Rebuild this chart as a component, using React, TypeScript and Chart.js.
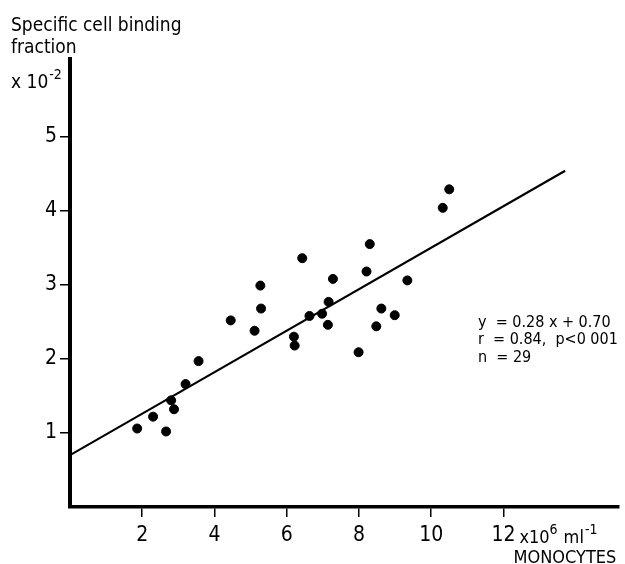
import React, { useEffect, useRef } from 'react';
import { Chart, registerables } from 'chart.js';

Chart.register(...registerables);

// Monocytes (x10^6 ml^-1)
const monocytes = [
  1.86, 2.30, 2.66, 2.80, 2.88, 3.20, 3.56, 4.45, 5.11, 5.29,
  5.27, 6.20, 6.22, 6.43, 6.63, 6.98, 7.14, 7.16, 7.28, 7.99,
  8.21, 8.30, 8.48, 8.62, 8.99, 9.34, 10.32, 10.50,
];
// Specific cell binding fraction (x10^-2)
const binding = [
  1.06, 1.22, 1.02, 1.44, 1.32, 1.66, 1.97, 2.52, 2.38, 2.68,
  2.99, 2.30, 2.18, 3.36, 2.58, 2.61, 2.46, 2.77, 3.08, 2.09,
  3.18, 3.55, 2.44, 2.68, 2.59, 3.06, 4.04, 4.29,
];
// Regression line y = 0.28 x + 0.70 (drawn segment)
const fitX = [0, 13.71];
const fitY = [0.70, 4.54];

const xTicks = [2, 4, 6, 8, 10, 12];
const yTicks = [1, 2, 3, 4, 5];
const xMax = 15.2;
const yMax = 6.05;

const FONT = '"DejaVu Sans Condensed", "DejaVu Sans", sans-serif';

const textPlugin = {
  id: 'figureTexts',
  afterDraw(chart: any) {
    const ctx = chart.ctx as CanvasRenderingContext2D;
    const xs = chart.scales.x;
    const area = chart.chartArea;
    ctx.save();
    ctx.fillStyle = '#000';
    ctx.textAlign = 'left';
    ctx.textBaseline = 'alphabetic';

    // y-axis title
    ctx.font = `19px ${FONT}`;
    ctx.fillText('Specific cell binding', 11, 31);
    ctx.fillText('fraction', 11, 53);
    const base = 'x 10';
    ctx.fillText(base, 11, 88);
    const w0 = ctx.measureText(base).width;
    ctx.font = `14px ${FONT}`;
    ctx.fillText('-2', 11 + w0 + 1, 79);

    // x-axis unit after "12"
    const p12 = xs.getPixelForValue(12);
    ctx.font = `18px ${FONT}`;
    let cx = p12 + 16;
    const by = 543;
    ctx.fillText('x10', cx, by);
    cx += ctx.measureText('x10').width;
    ctx.font = `14px ${FONT}`;
    ctx.fillText('6', cx, by - 9);
    cx += ctx.measureText('6').width + 6;
    ctx.font = `18px ${FONT}`;
    ctx.fillText('ml', cx, by);
    cx += ctx.measureText('ml').width + 1;
    ctx.font = `14px ${FONT}`;
    ctx.fillText('-1', cx, by - 9);

    ctx.font = `18px ${FONT}`;
    ctx.fillText('MONOCYTES', p12 + 10, 563);

    // regression annotation
    ctx.font = `16px ${FONT}`;
    const ax = area.right - 141;
    ctx.fillText('y  = 0.28 x + 0.70', ax, 327);
    ctx.fillText('r  = 0.84,  p<0 001', ax, 344);
    ctx.fillText('n  = 29', ax, 362);
    ctx.restore();
  },
};

export default function App() {
  const ref = useRef<HTMLCanvasElement | null>(null);

  useEffect(() => {
    const prevMargin = document.body.style.margin;
    document.body.style.margin = '0';
    const canvas = ref.current;
    if (!canvas) return;
    const points = monocytes.map((m, i) => ({ x: m, y: binding[i] }));
    const fit = fitX.map((v, i) => ({ x: v, y: fitY[i] }));

    const chart = new Chart(canvas, {
      type: 'scatter',
      data: {
        datasets: [
          {
            type: 'line',
            data: fit,
            borderColor: '#000',
            borderWidth: 2.2,
            pointRadius: 0,
            fill: false,
          } as any,
          {
            data: points,
            backgroundColor: '#000',
            borderColor: '#000',
            pointRadius: 4.5,
            pointHoverRadius: 4.5,
          },
        ],
      },
      options: {
        responsive: false,
        animation: false,
        devicePixelRatio: 1,
        layout: { padding: { top: 59, right: 6, left: 0, bottom: 0 } },
        plugins: {
          legend: { display: false },
          tooltip: { enabled: false },
        },
        scales: {
          x: {
            type: 'linear',
            min: 0,
            max: xMax,
            afterBuildTicks: (scale: any) => {
              scale.ticks = xTicks.map((v) => ({ value: v }));
            },
            afterFit: (scale: any) => {
              scale.height = 57;
            },
            ticks: {
              color: '#000',
              font: { family: FONT, size: 21 },
              padding: 6,
              maxRotation: 0,
              autoSkip: false,
            },
            grid: {
              drawOnChartArea: false,
              drawTicks: true,
              tickLength: 10,
              color: '#000',
              lineWidth: 1.5,
            },
            border: { display: true, color: '#000', width: 3.5 },
          },
          y: {
            type: 'linear',
            min: 0,
            max: yMax,
            afterBuildTicks: (scale: any) => {
              scale.ticks = yTicks.map((v) => ({ value: v }));
            },
            afterFit: (scale: any) => {
              scale.width = 70;
            },
            ticks: {
              color: '#000',
              font: { family: FONT, size: 21 },
              padding: 3,
              autoSkip: false,
            },
            grid: {
              drawOnChartArea: false,
              drawTicks: true,
              tickLength: 10,
              color: '#000',
              lineWidth: 1.5,
            },
            border: { display: true, color: '#000', width: 4 },
          },
        },
      },
      plugins: [textPlugin],
    });

    return () => {
      chart.destroy();
      document.body.style.margin = prevMargin;
    };
  }, []);

  return (
    <div style={{ position: 'absolute', left: 0, top: 0, width: 625, height: 564, background: '#fff' }}>
      <canvas ref={ref} width={625} height={564} style={{ display: 'block' }} />
    </div>
  );
}
